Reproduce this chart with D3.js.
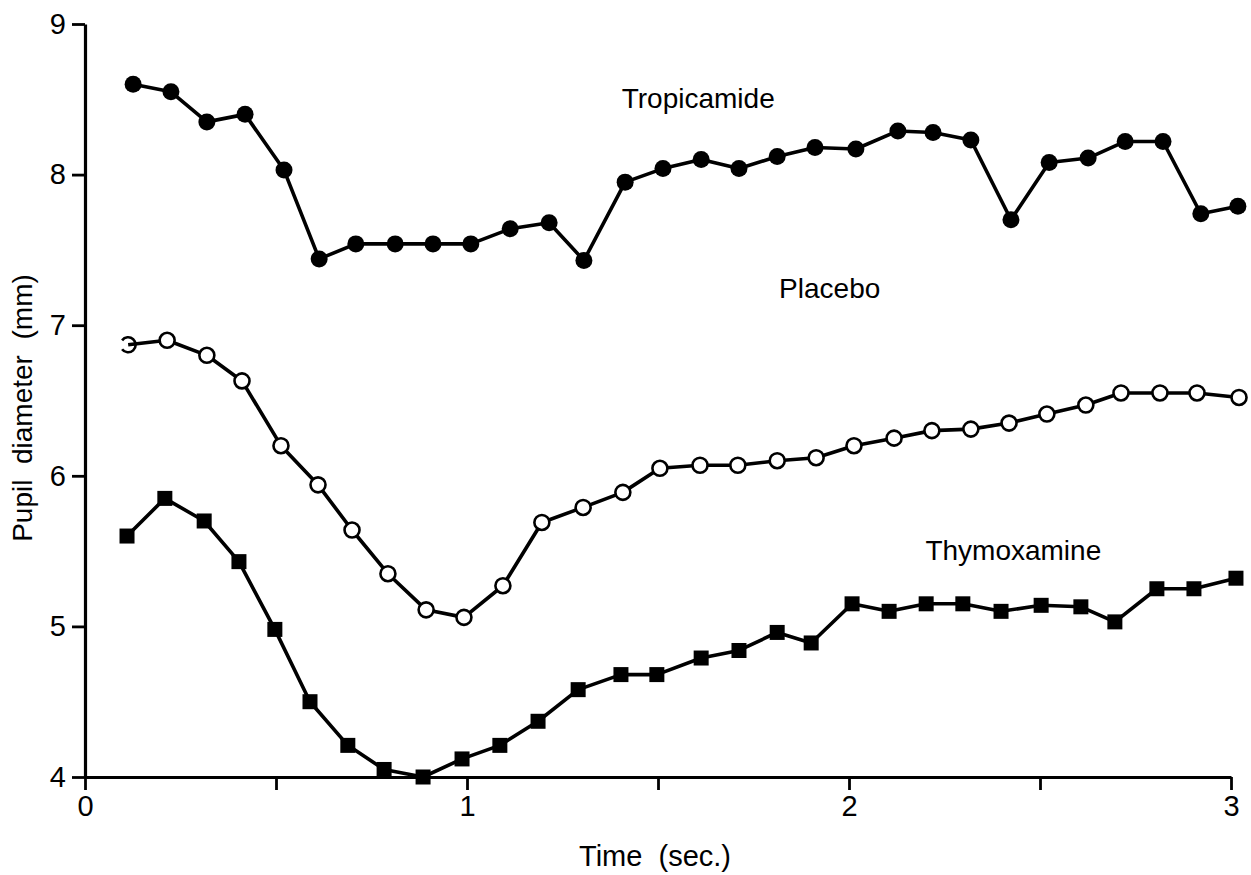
<!DOCTYPE html>
<html>
<head>
<meta charset="utf-8">
<script src="https://cdn.jsdelivr.net/npm/d3@7"></script>
<style>
  html, body { margin: 0; padding: 0; background: #fff; }
  svg { display: block; }
  text { font-family: "Liberation Sans", Arial, Helvetica, sans-serif; fill: #000; }
</style>
</head>
<body>
<svg id="chart" width="1251" height="875"></svg>
<script>
// Pupil diameter (mm) over time (sec.) for three eye-drop conditions
const tropicamideTime = [0.126, 0.225, 0.319, 0.419, 0.521, 0.613, 0.709, 0.812, 0.911, 1.010,
  1.113, 1.215, 1.306, 1.414, 1.513, 1.613, 1.712, 1.812, 1.911, 2.018,
  2.128, 2.220, 2.319, 2.424, 2.524, 2.626, 2.723, 2.822, 2.921, 3.018];
const tropicamide = [8.60, 8.55, 8.35, 8.40, 8.03, 7.44, 7.54, 7.54, 7.54, 7.54,
  7.64, 7.68, 7.43, 7.95, 8.04, 8.10, 8.04, 8.12, 8.18, 8.17,
  8.29, 8.28, 8.23, 7.70, 8.08, 8.11, 8.22, 8.22, 7.74, 7.79];

const placeboTime = [0.113, 0.215, 0.319, 0.411, 0.513, 0.610, 0.699, 0.793, 0.893, 0.992,
  1.094, 1.196, 1.304, 1.408, 1.505, 1.610, 1.709, 1.812, 1.914, 2.013,
  2.118, 2.217, 2.319, 2.419, 2.518, 2.620, 2.712, 2.814, 2.911, 3.021];
const placebo = [6.87, 6.90, 6.80, 6.63, 6.20, 5.94, 5.64, 5.35, 5.11, 5.06,
  5.27, 5.69, 5.79, 5.89, 6.05, 6.07, 6.07, 6.10, 6.12, 6.20,
  6.25, 6.30, 6.31, 6.35, 6.41, 6.47, 6.55, 6.55, 6.55, 6.52];

const thymoxamineTime = [0.110, 0.209, 0.312, 0.403, 0.497, 0.589, 0.688, 0.783, 0.885, 0.987,
  1.086, 1.186, 1.291, 1.403, 1.497, 1.613, 1.712, 1.812, 1.901, 2.008,
  2.105, 2.202, 2.298, 2.398, 2.503, 2.607, 2.696, 2.806, 2.903, 3.013];
const thymoxamine = [5.60, 5.85, 5.70, 5.43, 4.98, 4.50, 4.21, 4.05, 4.00, 4.12,
  4.21, 4.37, 4.58, 4.68, 4.68, 4.79, 4.84, 4.96, 4.89, 5.15,
  5.10, 5.15, 5.15, 5.10, 5.14, 5.13, 5.03, 5.25, 5.25, 5.32];

const xTicks = [0, 0.5, 1, 1.5, 2, 2.5, 3];
const xTickLabels = ["0", "", "1", "", "2", "", "3"];
const yTicks = [4, 5, 6, 7, 8, 9];

const seriesNames = ["Tropicamide", "Placebo", "Thymoxamine"];
const labelTime = [1.405, 1.817, 2.200];
const labelValue = [8.44, 7.18, 5.44];

const svg = d3.select("#chart");
const x = d3.scaleLinear().domain([0, 3]).range([85, 1231]);
const y = d3.scaleLinear().domain([4, 9]).range([777, 24]);

// axes
const xAxis = d3.axisBottom(x)
  .tickValues(xTicks)
  .tickFormat((d, i) => xTickLabels[i])
  .tickSize(13).tickSizeOuter(0).tickPadding(5);
const gx = svg.append("g").attr("transform", `translate(0,${y(4)})`).call(xAxis);
gx.select(".domain").attr("stroke", "#000").attr("stroke-width", 3.2);
gx.selectAll(".tick line").attr("stroke", "#000").attr("stroke-width", 2.8);
gx.selectAll(".tick text").attr("font-size", 29);

const yAxis = d3.axisLeft(y)
  .tickValues(yTicks)
  .tickFormat(d3.format("d"))
  .tickSize(13).tickSizeOuter(0).tickPadding(6);
const gy = svg.append("g").attr("transform", `translate(${x(0)},0)`).call(yAxis);
gy.select(".domain").attr("stroke", "#000").attr("stroke-width", 3.2);
gy.selectAll(".tick line").attr("stroke", "#000").attr("stroke-width", 2.8);
gy.selectAll(".tick text").attr("font-size", 29);

// axis titles
svg.append("text")
  .attr("x", 655).attr("y", 866)
  .attr("text-anchor", "middle")
  .attr("font-size", 29)
  .style("white-space", "pre")
  .text("Time  (sec.)");
svg.append("text")
  .attr("transform", `translate(32,${408}) rotate(-90)`)
  .attr("text-anchor", "middle")
  .attr("font-size", 28)
  .style("white-space", "pre")
  .text("Pupil  diameter  (mm)");

const line = d3.line().x(d => x(d[0])).y(d => y(d[1]));
const zip = (t, v) => t.map((tt, i) => [tt, v[i]]);

const tropData = zip(tropicamideTime, tropicamide);
const placData = zip(placeboTime, placebo);
const thymData = zip(thymoxamineTime, thymoxamine);

[tropData, placData, thymData].forEach(data => {
  svg.append("path")
    .datum(data)
    .attr("d", line)
    .attr("fill", "none")
    .attr("stroke", "#000")
    .attr("stroke-width", 3.6)
    .attr("stroke-linejoin", "round");
});

// Tropicamide: filled circles
svg.append("g").selectAll("circle")
  .data(tropData).join("circle")
  .attr("cx", d => x(d[0])).attr("cy", d => y(d[1]))
  .attr("r", 8.5).attr("fill", "#000");

// Placebo: open circles (the first one is printed as a broken ring)
svg.append("g").selectAll("circle")
  .data(placData.slice(1)).join("circle")
  .attr("cx", d => x(d[0])).attr("cy", d => y(d[1]))
  .attr("r", 7.5).attr("fill", "#fff").attr("stroke", "#000").attr("stroke-width", 2.6);
const p0 = placData[0];
const ring = d3.path();
ring.arc(x(p0[0]), y(p0[1]), 7.5, -Math.PI * 0.8, Math.PI * 0.8);
svg.append("path").attr("d", ring.toString())
  .attr("fill", "none").attr("stroke", "#000").attr("stroke-width", 2.6);

// Thymoxamine: filled squares
const sq = 15;
svg.append("g").selectAll("rect")
  .data(thymData).join("rect")
  .attr("x", d => x(d[0]) - sq / 2).attr("y", d => y(d[1]) - sq / 2)
  .attr("width", sq).attr("height", sq).attr("fill", "#000");

// series labels
svg.append("g").selectAll("text")
  .data(seriesNames).join("text")
  .attr("x", (d, i) => x(labelTime[i]))
  .attr("y", (d, i) => y(labelValue[i]))
  .attr("font-size", 28)
  .text(d => d);
</script>
</body>
</html>
